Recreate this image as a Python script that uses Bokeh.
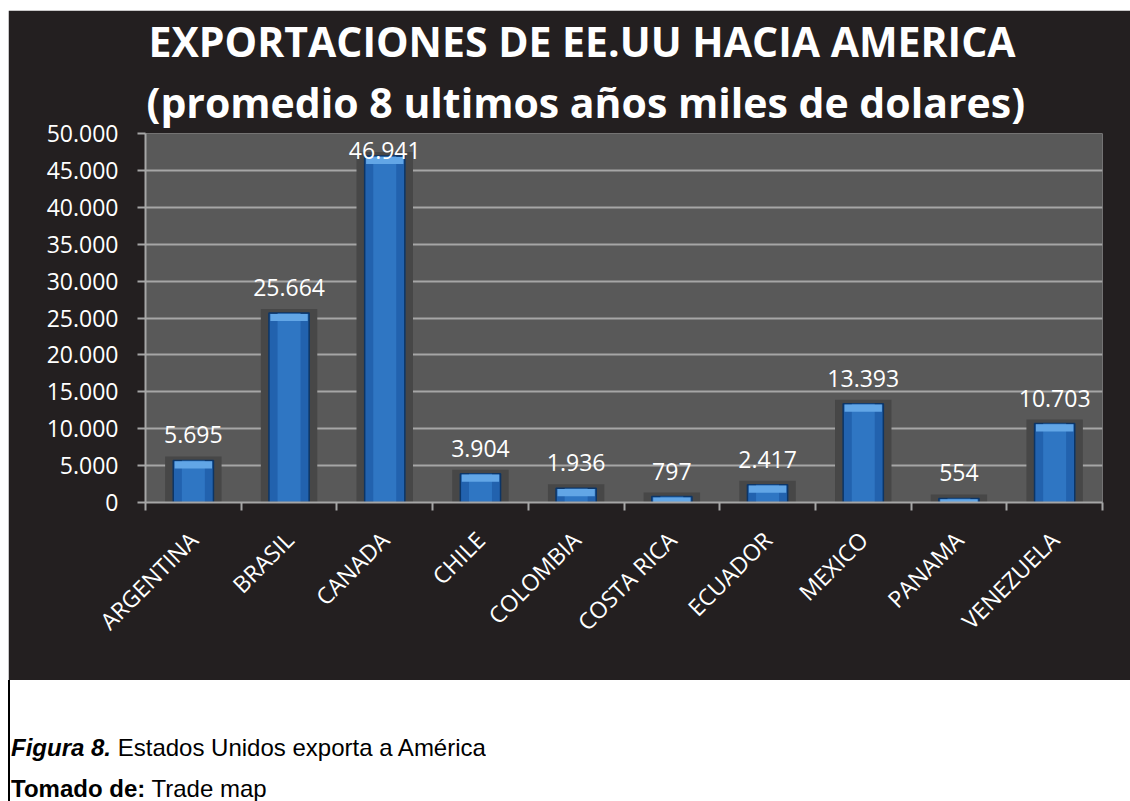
import numpy as np
from bokeh.plotting import figure
from bokeh.models import Range1d, FixedTicker, Title, Div
from bokeh.layouts import column
from bokeh.embed import file_html
from bokeh.resources import INLINE
from bokeh.core.properties import value

# ---- data ----
countries = ["ARGENTINA", "BRASIL", "CANADA", "CHILE", "COLOMBIA",
             "COSTA RICA", "ECUADOR", "MEXICO", "PANAMA", "VENEZUELA"]
exports = [5695, 25664, 46941, 3904, 1936, 797, 2417, 13393, 554, 10703]
y_ticks = [0, 5000, 10000, 15000, 20000, 25000, 30000, 35000, 40000, 45000, 50000]
y_tick_labels = ["0", "5.000", "10.000", "15.000", "20.000", "25.000",
                 "30.000", "35.000", "40.000", "45.000", "50.000"]
title_line1 = "EXPORTACIONES DE EE.UU HACIA AMERICA"
title_line2 = "(promedio 8 ultimos años miles de dolares)"
caption1_bold = "Figura 8."
caption1_text = "Estados Unidos exporta a América"
caption2_bold = "Tomado de:"
caption2_text = "Trade map"

# ---- layout constants ----
W, H = 1122, 670
ML, MR, MT, MB = 137, 28, 123, 178
FRAME_H = H - MT - MB
YMAX = y_ticks[-1]
upp = YMAX / FRAME_H  # data units per pixel

BG = "#231f20"
PLOT_BG = "#595959"
GRID = "#a6a6a6"
FONT = "Open Sans"

n = len(countries)
xs = np.arange(n) + 0.5
vals = np.array(exports, dtype=float)
label_txt = [f"{v:,}".replace(",", ".") for v in exports]
label_y = np.minimum(vals + 25.5 * upp, YMAX - 17 * upp)

p = figure(width=W, height=H, x_range=Range1d(0, n), y_range=Range1d(0, YMAX),
           output_backend="svg", toolbar_location=None,
           min_border_left=ML, min_border_right=MR, min_border_top=MT,
           min_border_bottom=MB, margin=(10, 0, 0, 8))
p.background_fill_color = PLOT_BG
p.border_fill_color = BG
p.outline_line_color = None

# bars: shadow, body, highlight, bevel
p.vbar(x=xs, width=0.59, top=vals + 4 * upp, bottom=0,
       fill_color="#474747", line_color=None)
p.vbar(x=xs, width=0.42, top=vals, bottom=0,
       fill_color="#2262ae", line_color="#0c3566", line_width=1.5)
p.vbar(x=xs, width=0.24, top=vals, bottom=0,
       fill_color="#3a86d6", fill_alpha=0.55, line_color=None)
p.vbar(x=xs, width=0.39, top=vals - 0.8 * upp,
       bottom=np.maximum(vals - 8 * upp, 0),
       fill_color="#62a6e6", line_color=None)

p.text(x=xs, y=label_y, text=label_txt, text_align="center",
       text_baseline="alphabetic", text_color="white",
       text_font=value(FONT), text_font_size="23px")

# x axis
p.xaxis.ticker = FixedTicker(ticks=list(xs), minor_ticks=list(range(n + 1)))
p.xaxis.major_label_overrides = {float(x): c for x, c in zip(xs, countries)}
p.xaxis.major_label_orientation = np.pi / 4
p.xaxis.major_tick_line_color = None
p.xaxis.major_tick_in = 0
p.xaxis.major_tick_out = 0
p.xaxis.minor_tick_in = 0
p.xaxis.minor_tick_out = 8
p.xaxis.minor_tick_line_color = GRID
p.xaxis.minor_tick_line_width = 2
p.xaxis.major_label_standoff = 25
p.xaxis.major_label_text_font = FONT
p.xaxis.major_label_text_font_size = "23px"
p.xaxis.major_label_text_color = "white"
p.xaxis.axis_line_color = GRID
p.xaxis.axis_line_width = 2

# y axis
p.yaxis.ticker = FixedTicker(ticks=y_ticks, minor_ticks=[])
p.yaxis.major_label_overrides = {t: s for t, s in zip(y_ticks, y_tick_labels)}
p.yaxis.major_tick_in = 0
p.yaxis.major_tick_out = 8
p.yaxis.major_tick_line_color = GRID
p.yaxis.major_tick_line_width = 2
p.yaxis.minor_tick_line_color = None
p.yaxis.major_label_standoff = 19
p.yaxis.major_label_text_font = FONT
p.yaxis.major_label_text_font_size = "23px"
p.yaxis.major_label_text_color = "white"
p.yaxis.axis_line_color = GRID
p.yaxis.axis_line_width = 2

p.xgrid.visible = False
p.ygrid.ticker = FixedTicker(ticks=y_ticks, minor_ticks=[])
p.ygrid.grid_line_color = GRID
p.ygrid.grid_line_width = 2

# title (two lines, nearest to frame first)
p.add_layout(Title(text=title_line2, align="left", offset=1, standoff=7,
                   text_font=FONT, text_font_style="bold", text_font_size="41px",
                   text_color="white"), "above")
p.add_layout(Title(text=title_line1, align="left", offset=3, standoff=0,
                   text_font=FONT, text_font_style="bold", text_font_size="41px",
                   text_color="white"), "above")

# caption (HTML text below the chart)
caption_html = (
    '<div style="box-sizing:border-box;height:121px;border-left:2px solid #000;'
    'padding:47px 0 0 1px;font-family:\'Liberation Sans\',Arial,sans-serif;'
    'font-size:24px;line-height:41px;color:#000;overflow:hidden;white-space:nowrap;'
    'background:#fff">'
    f'<b><i>{caption1_bold}</i></b> {caption1_text}<br>'
    f'<b>{caption2_bold}</b> {caption2_text}</div>'
)
cap = Div(text=caption_html, width=W, height=121, margin=(0, 0, 0, 8))

layout = column(p, cap)
open("out.html", "w").write(file_html(layout, INLINE))
